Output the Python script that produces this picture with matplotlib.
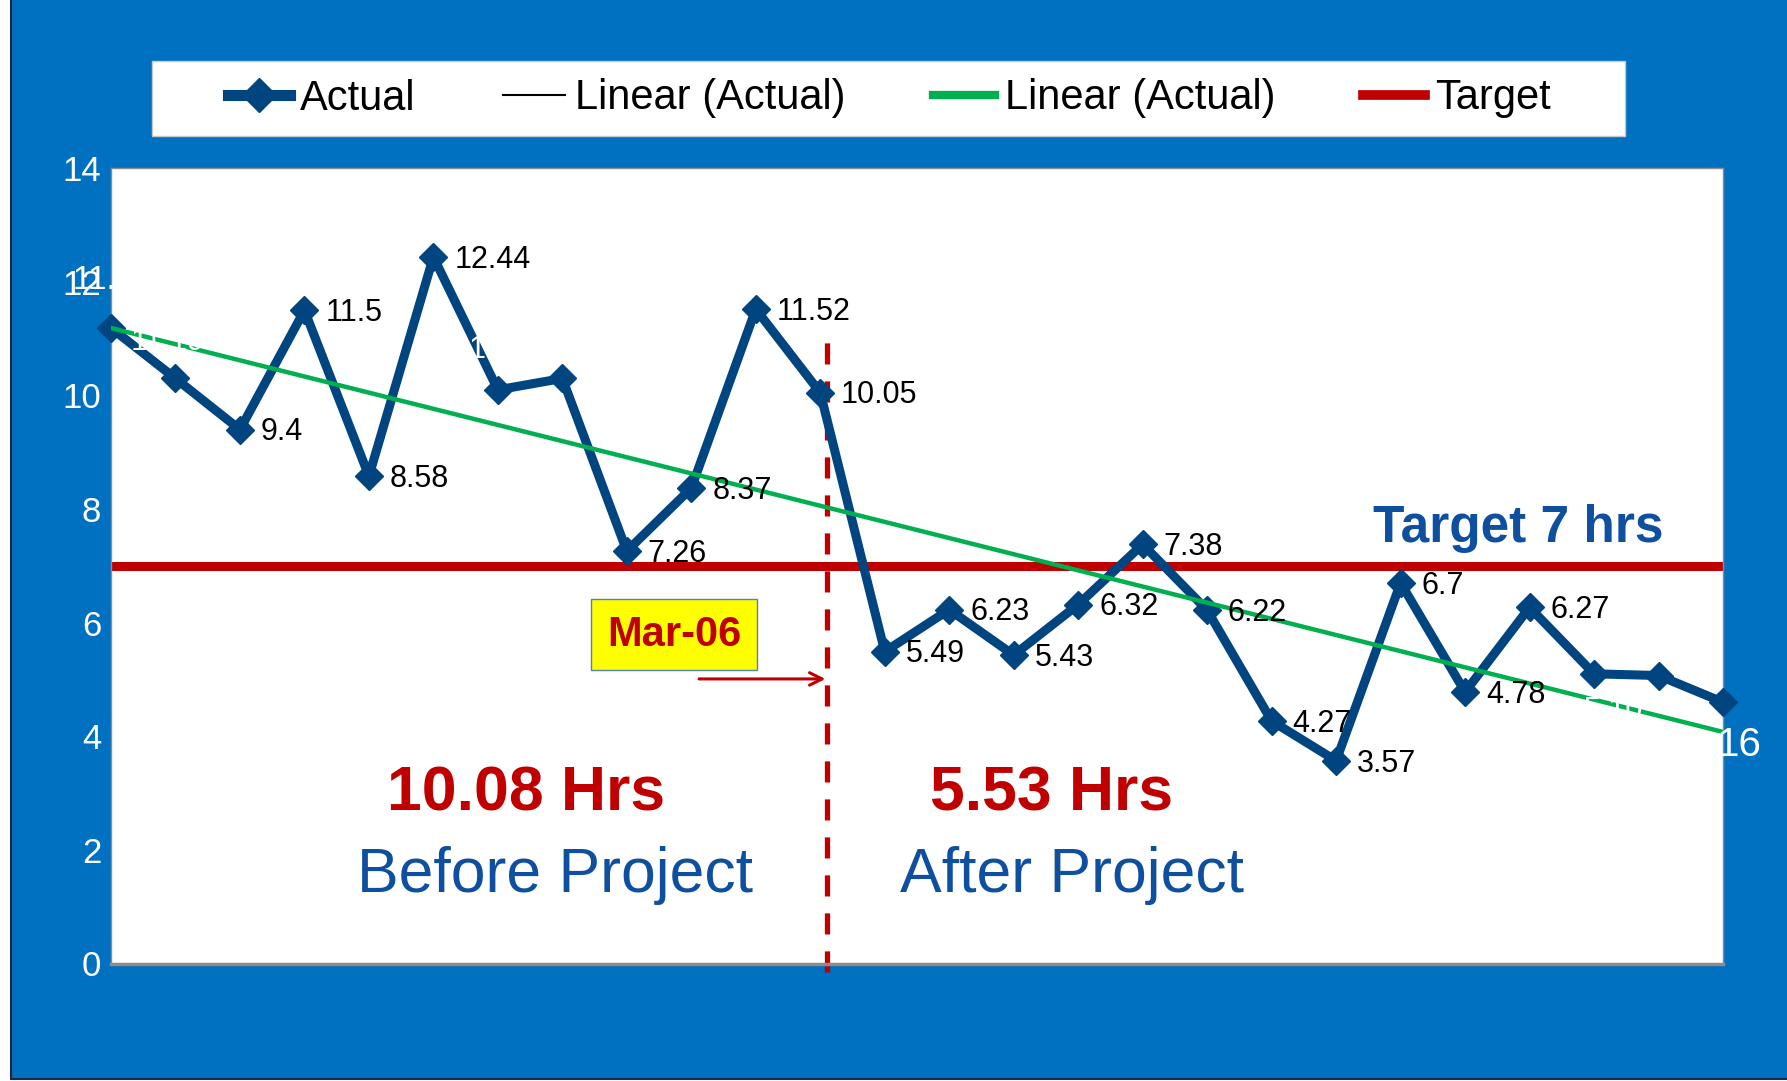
import numpy as np
import matplotlib.pyplot as plt
from matplotlib.lines import Line2D
from matplotlib.patches import Rectangle

plt.rcParams['font.family'] = ['Liberation Sans', 'DejaVu Sans']

# weekly turnaround hours, before and after the project
actual = [11.19, 10.30, 9.40, 11.50, 8.58, 12.44, 10.10, 10.30, 7.26, 8.37, 11.52, 10.05,
          5.49, 6.23, 5.43, 6.32, 7.38, 6.22, 4.27, 3.57, 6.70, 4.78, 6.27, 5.10, 5.07, 4.60]
# points that carry a black value label
labelled = [2, 3, 4, 5, 8, 9, 10, 11, 12, 13, 14, 15, 16, 17, 18, 19, 20, 21, 22]
target = 7
change_at = 11          # last week before the project went live
change_label = "Mar-06"
yticks = [0, 2, 4, 6, 8, 10, 12, 14]

navy = '#00457F'
green = '#00B050'
red = '#C00000'
bg_blue = '#0070C0'
txt_blue = '#0F4FA0'

W, H = 1787, 1081
fig = plt.figure(figsize=(W / 100, H / 100), dpi=100)
fig.patch.set_facecolor('white')

# blue chart area background
fig.patches.append(Rectangle((11 / W, 0.002), 1.0, 1.0, transform=fig.transFigure,
                             facecolor=bg_blue, edgecolor='#1A2A40', lw=1.5, zorder=-2))
# legend box
fig.patches.append(Rectangle((152 / W, 1 - 136 / H), (1625 - 152) / W, 75 / H, transform=fig.transFigure,
                             facecolor='white', edgecolor='#C8C8C8', lw=1, zorder=-1))

ax = fig.add_axes([111 / W, 1 - 963.5 / H, (1723 - 111) / W, (963.5 - 168.3) / H])
ax.set_facecolor('white')
x = np.arange(len(actual))
y = np.array(actual)

ax.axhline(target, color=red, lw=6.5, zorder=2)

# dashed marker for project start
ax.plot([change_at + 0.1, change_at + 0.1], [-0.15, 11.2], color=red, lw=3.8,
        dashes=(4.0, 3.2), zorder=2.5, clip_on=False)

ax.plot(x, y, color=navy, lw=6.5, marker='D', markersize=14.5, markeredgewidth=1,
        markerfacecolor=navy, markeredgecolor=navy, zorder=3, clip_on=False)

k, b = np.polyfit(x, y, 1)
ax.plot(x, k * x + b, color=green, lw=3.2, zorder=4)

for i in labelled:
    ax.annotate('%g' % actual[i], (x[i], y[i]), xytext=(15, -2), textcoords='offset points',
                ha='left', va='center', fontsize=22, color='black', zorder=5)

# white labels that only show where they cross lines or the blue frame
ax.text(-0.6, 12.03, '11.19', color='white', fontsize=24, ha='left', va='center', zorder=6)
ax.text(0.31, 10.95, '11.19', color='white', fontsize=22, ha='left', va='center', zorder=6)
ax.text(5.55, 10.8, '10.10', color='white', fontsize=22, ha='left', va='center', zorder=6)
ax.text(23.3, 4.45, '5.10', color='white', fontsize=22, ha='center', va='center', zorder=6)
ax.text(25.25, 3.85, '16', color='white', fontsize=29, ha='center', va='center', zorder=6)

ax.set_xlim(0, len(actual) - 1)
ax.set_ylim(0, 14)
ax.set_yticks(yticks)
ax.set_xticks([])
ax.tick_params(axis='y', length=0, pad=7, labelsize=25, labelcolor='white')
for s in ax.spines.values():
    s.set_color('#8C8C8C')
    s.set_linewidth(1)
ax.spines['bottom'].set_linewidth(2.5)

before = np.mean(actual[:change_at + 1])
after = np.mean(actual[change_at + 1:])

ax.text(6.44, 2.98, '%.2f Hrs' % before, color=red, fontsize=45, fontweight='bold',
        ha='center', va='center', zorder=6)
ax.text(6.89, 1.55, 'Before Project', color=txt_blue, fontsize=45, ha='center', va='center', zorder=6)
ax.text(14.58, 2.98, '%.2f Hrs' % after, color=red, fontsize=45, fontweight='bold',
        ha='center', va='center', zorder=6)
ax.text(14.9, 1.55, 'After Project', color=txt_blue, fontsize=45, ha='center', va='center', zorder=6)
ax.text(21.82, 7.65, 'Target %d hrs' % target, color=txt_blue, fontsize=37, fontweight='bold',
        ha='center', va='center', zorder=6)

ax.text(8.73, 5.79, change_label, color=red, fontsize=30, fontweight='bold', ha='center', va='center',
        zorder=6, bbox=dict(boxstyle='square,pad=0.38', facecolor='yellow', edgecolor='#4F81BD', lw=1))
ax.annotate('', xy=(change_at + 0.08, 5.01), xytext=(9.12, 5.01),
            arrowprops=dict(arrowstyle='->,head_length=0.9,head_width=0.45', color=red, lw=2.2,
                            shrinkA=0, shrinkB=0), zorder=6)

handles = [Line2D([], [], color=navy, lw=8, marker='D', markersize=17),
           Line2D([], [], color='black', lw=1.5),
           Line2D([], [], color=green, lw=6),
           Line2D([], [], color=red, lw=7)]
labels = ['Actual', 'Linear (Actual)', 'Linear (Actual)', 'Target']
fig.legend(handles, labels, loc='center', bbox_to_anchor=(889 / W, 1 - 98.5 / H), ncol=4,
           frameon=False, fontsize=30, handlelength=1.49, handletextpad=0.24, columnspacing=2.1)

fig.savefig('out.png', dpi=100, facecolor=fig.get_facecolor())
